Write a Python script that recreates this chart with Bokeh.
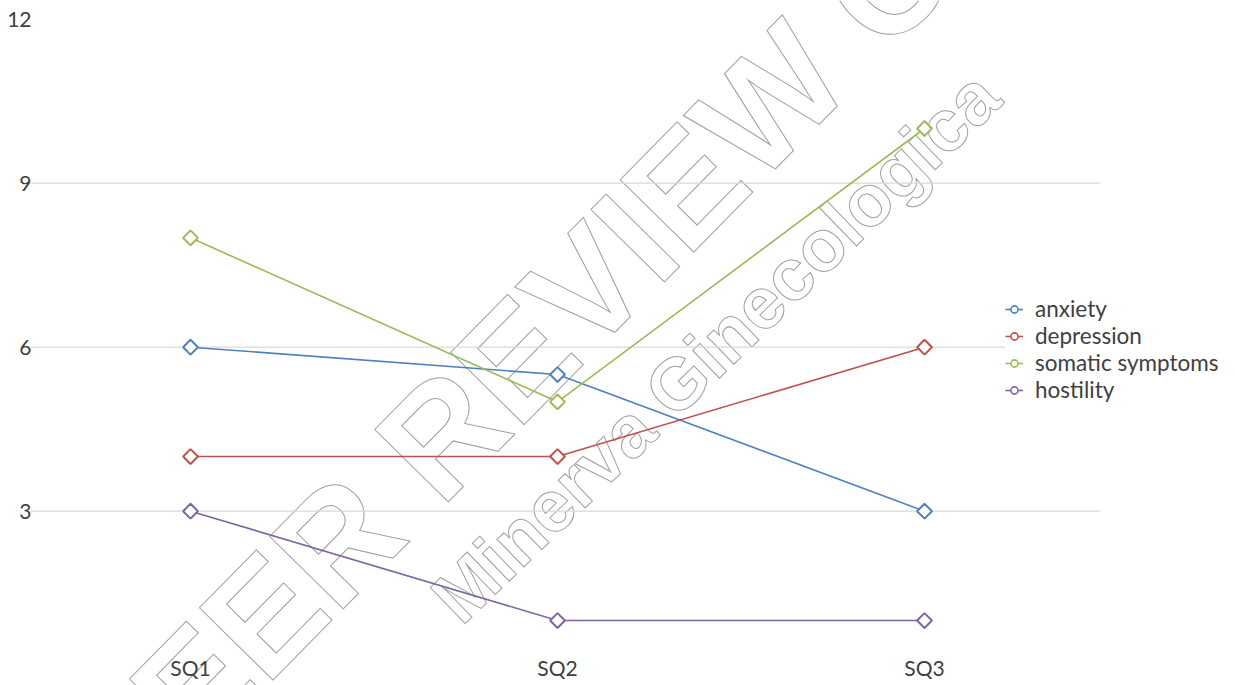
import math
from bokeh.plotting import figure
from bokeh.models import (ColumnDataSource, Legend, LegendItem, FixedTicker,
                          Range1d, Label)
from bokeh.core.properties import value
from bokeh.embed import file_html
from bokeh.resources import INLINE

# ---------------- data ----------------
categories = ["SQ1", "SQ2", "SQ3"]
series_names = ["anxiety", "depression", "somatic symptoms", "hostility"]
anxiety = [6, 5.5, 3]
depression = [4, 4, 6]
somatic_symptoms = [8, 5, 10]
hostility = [3, 1, 1]
y_ticks = [3, 6, 9, 12]
grid_ticks = [3, 6, 9]
colors = ["#4F81BD", "#C0504D", "#9BBB59", "#8064A2"]
watermark_texts = ["PEER REVIEW COPY", "Minerva Ginecologica"]

series_values = [anxiety, depression, somatic_symptoms, hostility]
x_idx = list(range(len(categories)))

# ---------------- layout ----------------
W, H = 1235, 685
LEFT = 30
FW, FH = W - LEFT, H
PX_PER_CAT = 367.0
PX_PER_UNIT = 54.67
ZERO_PX = 674.7            # pixel row of y = 0
xr = Range1d(-0.436, -0.436 + FW / PX_PER_CAT)
yr = Range1d(-(H - ZERO_PX) / PX_PER_UNIT, ZERO_PX / PX_PER_UNIT)
grid_end = -0.436 + 1070 / PX_PER_CAT
cat_label_y = (ZERO_PX - 667) / PX_PER_UNIT

p = figure(width=W, height=H, output_backend="svg", toolbar_location=None,
           x_range=xr, y_range=yr, x_axis_location=None,
           min_border_left=LEFT, min_border_right=0,
           min_border_top=0, min_border_bottom=0)
p.outline_line_color = None
p.background_fill_color = "white"
p.border_fill_color = "white"
p.xgrid.visible = False
p.ygrid.visible = False

FONT = "Lato"
ax = p.yaxis[0]
ax.axis_line_color = None
ax.major_tick_line_color = None
ax.minor_tick_line_color = None
ax.major_tick_out = 0
ax.major_tick_in = 0
ax.minor_tick_out = 0
ax.major_label_text_font = FONT
ax.major_label_text_font_size = "21px"
ax.major_label_text_color = "#404040"
ax.ticker = FixedTicker(ticks=y_ticks)
ax.major_label_standoff = -1

# horizontal gridlines (end where the Excel plot area ends)
p.segment(x0=[xr.start] * len(grid_ticks), x1=[grid_end] * len(grid_ticks),
          y0=grid_ticks, y1=grid_ticks, line_color="#d9d9d9",
          line_width=1.3, level="underlay")

# category labels
p.text(x=x_idx, y=[cat_label_y] * len(categories), text=categories,
       text_font=value(FONT), text_font_size="21px", text_color="#404040",
       text_align="center", text_baseline="middle")

# ---------------- watermark (outlined text, drawn beneath the data) -------
def px_to_data(px, py):
    xd = xr.start + (px - LEFT) / FW * (xr.end - xr.start)
    yd = yr.start + (FH - py) / FH * (yr.end - yr.start)
    return xd, yd

wm_specs = [  # text, centre px, angle deg, size px
    (watermark_texts[0], (617, 255), 45.5, "150px"),
    (watermark_texts[1], (715, 346), 44.0, "73px"),
]
for txt, (cx, cy), ang, fs in wm_specs:
    xd, yd = px_to_data(cx, cy)
    p.add_layout(Label(x=xd, y=yd, text=txt, angle=math.radians(ang),
                       text_align="center", text_baseline="middle",
                       text_font="Liberation Sans", text_font_style="bold",
                       text_font_size=fs, text_color="white",
                       text_outline_color="#a0a0a0", level="image"))

# ---------------- series ----------------
items = []
for name, vals, col in zip(series_names, series_values, colors):
    src = ColumnDataSource(dict(x=x_idx, y=vals))
    ln = p.line("x", "y", source=src, line_color=col, line_width=1.6)
    p.scatter("x", "y", source=src, marker="square", angle=math.pi / 4,
              size=10.5, fill_color="white", line_color=col, line_width=2)
    dummy = p.scatter(x=[float("nan")], y=[float("nan")], marker="circle",
                      size=10, fill_color="white", line_color=col,
                      line_width=1.6)
    items.append(LegendItem(label=name, renderers=[ln, dummy]))

legend = Legend(items=items, location=(975, 282),
                label_text_font=FONT, label_text_font_size="22.5px",
                label_text_color="#404040", label_text_line_height=1.08,
                glyph_width=18, glyph_height=20, label_height=20,
                label_standoff=12, spacing=0, padding=8, margin=0,
                border_line_color=None, background_fill_color="white",
                background_fill_alpha=1.0)
p.add_layout(legend, "center")

open("out.html", "w").write(file_html(p, INLINE))
